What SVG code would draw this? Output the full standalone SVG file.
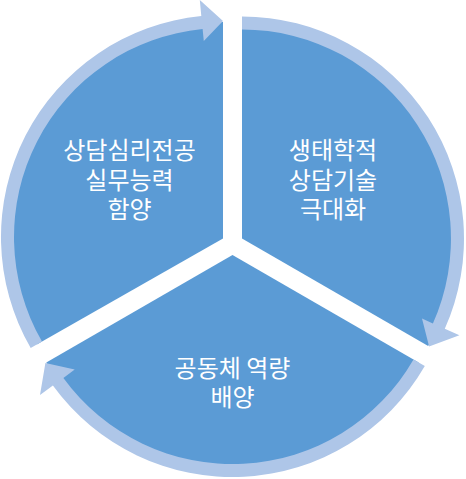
<svg xmlns="http://www.w3.org/2000/svg" width="466" height="479" viewBox="0 0 466 479">
  <style>
    .seg { fill: #5B9BD5; }
    .arr { fill: #AEC6E8; }
    .lbl { font-family: "Noto Sans CJK KR", "Noto Sans", sans-serif; font-size: 24px; fill: #FFFFFF; text-anchor: middle; }
  </style>
  <rect width="466" height="479" fill="#FFFFFF"/>
  <g id="node-left">
    <path class="seg" d="M 223 238.5 L 223 22 A 215 215 0 0 0 36.8 344.5 Z"/>
    <text class="lbl" x="129.5" y="159"><tspan x="129.5" y="159">상담심리전공</tspan><tspan x="129.5" y="188.5">실무능력</tspan><tspan x="129.5" y="218">함양</tspan></text>
  </g>
  <g id="node-right">
    <path class="seg" d="M 242 238.5 L 242 23.5 A 215 215 0 0 1 428.2 346 Z"/>
    <text class="lbl" x="333" y="159"><tspan x="333" y="159">생태학적</tspan><tspan x="333" y="188.5">상담기술</tspan><tspan x="333" y="218">극대화</tspan></text>
  </g>
  <g id="node-bottom">
    <path class="seg" d="M 232.5 255 L 418.7 362.5 A 215 215 0 0 1 46.3 362.5 Z"/>
    <text class="lbl" x="232.5" y="376.5"><tspan x="232.5" y="376.5">공동체 역량</tspan><tspan x="232.5" y="405.5">배양</tspan></text>
  </g>
  <g id="connectors">
    <path class="arr" d="M 30.7 348 A 222 222 0 0 1 201.3 16.1 L 199.8 0.1 L 223 21 L 203.8 41 L 202.6 29 A 209 209 0 0 0 42 341.5 Z"/>
    <path class="arr" d="M 242 16.5 A 222 222 0 0 1 444.8 328.8 L 459.4 335.3 L 429.1 346.5 L 422 318.6 L 432.9 323.5 A 209 209 0 0 0 242 29.5 Z"/>
    <path class="arr" d="M 424.8 366 A 222 222 0 0 1 52.9 385.5 L 40 394.9 L 45.4 363 L 74.7 369.6 L 63.4 377.9 A 209 209 0 0 0 413.5 359.5 Z"/>
  </g>
</svg>
